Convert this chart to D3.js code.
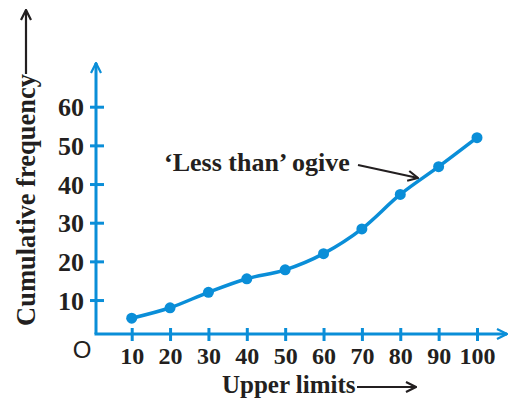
<!DOCTYPE html>
<html><head><meta charset="utf-8">
<script src="https://cdn.jsdelivr.net/npm/d3@7"></script>
<style>html,body{margin:0;padding:0;background:#fff;}svg{display:block;}</style>
</head><body>
<svg id="c" width="508" height="403"></svg>
<script>
const upperLimits = [10, 20, 30, 40, 50, 60, 70, 80, 90, 100];
const cumulativeFrequency = [5.3, 8, 12, 15.5, 17.8, 22, 28.4, 37.3, 44.5, 52];
const yTicks = [10, 20, 30, 40, 50, 60];
const xTitle = "Upper limits";
const yTitle = "Cumulative frequency";
const annotation = "\u2018Less than\u2019 ogive";

const blue = "#0a8ed8", ink = "#231f20";
const serif = "'Liberation Serif', 'Times New Roman', serif";
const svg = d3.select("#c");
const x = d3.scaleLinear().domain([10, 100]).range([131.7, 477]);
const y = d3.scaleLinear().domain([0, 60]).range([338.7, 106.7]);
const axisY = 334, axisX = 96;

const defs = svg.append("defs");
function marker(id, col){
  defs.append("marker").attr("id",id).attr("viewBox","0 0 12 12").attr("refX",11).attr("refY",6)
    .attr("markerWidth",12).attr("markerHeight",12).attr("markerUnits","userSpaceOnUse").attr("orient","auto")
    .append("path").attr("d","M1,1 L11,6 L1,11").attr("fill","none").attr("stroke",col).attr("stroke-width",2.2);
}
marker("ab", blue); marker("ak", ink);

// axes lines with arrows
svg.append("line").attr("x1",axisX).attr("y1",axisY).attr("x2",axisX).attr("y2",63)
  .attr("stroke",blue).attr("stroke-width",3).attr("marker-end","url(#ab)");
svg.append("line").attr("x1",axisX-1.5).attr("y1",axisY).attr("x2",507).attr("y2",axisY)
  .attr("stroke",blue).attr("stroke-width",3).attr("marker-end","url(#ab)");

// y ticks via d3 axis
const gy = svg.append("g").attr("transform",`translate(${axisX},0)`)
  .call(d3.axisLeft(y).tickValues(yTicks).tickSize(7).tickPadding(6).tickFormat(d3.format("d")));
gy.select(".domain").remove();
gy.selectAll(".tick line").attr("x1",-6).attr("x2",8).attr("stroke",blue).attr("stroke-width",3);
gy.selectAll(".tick text").attr("x",-12).attr("dy","0.35em").attr("fill",ink)
  .style("font-family",serif).style("font-weight","bold").style("font-size","26px");

// x ticks
const gx = svg.append("g").attr("transform",`translate(0,${axisY})`)
  .call(d3.axisBottom(x).tickValues(upperLimits).tickSize(7).tickFormat(d3.format("d")));
gx.select(".domain").remove();
gx.selectAll(".tick line").attr("y1",-6).attr("y2",7).attr("stroke",blue).attr("stroke-width",3);
gx.selectAll(".tick text").attr("y",30).attr("dy",0).attr("fill",ink)
  .style("font-family",serif).style("font-weight","bold").style("font-size","24px");

// origin
svg.append("text").attr("x",82).attr("y",358).attr("text-anchor","middle").attr("fill",ink)
  .style("font-family","'Liberation Sans', Arial, sans-serif").style("font-size","24px").text("O");

// line
const data = upperLimits.map((u,i)=>({u, c: cumulativeFrequency[i]}));
svg.append("path").datum(data).attr("fill","none").attr("stroke",blue).attr("stroke-width",3.5)
  .attr("d", d3.line().x(d=>x(d.u)).y(d=>y(d.c)).curve(d3.curveMonotoneX));
svg.selectAll("circle.pt").data(data).enter().append("circle").attr("class","pt")
  .attr("cx",d=>x(d.u)).attr("cy",d=>y(d.c)).attr("r",5.5).attr("fill",blue);

// titles
svg.append("text").attr("transform","translate(35,326) rotate(-90)").attr("fill",ink)
  .style("font-family",serif).style("font-weight","bold").style("font-size","26.5px").text(yTitle);
svg.append("line").attr("x1",26).attr("y1",74).attr("x2",26).attr("y2",10)
  .attr("stroke",ink).attr("stroke-width",2.2).attr("marker-end","url(#ak)");

svg.append("text").attr("x",222).attr("y",393).attr("fill",ink)
  .style("font-family",serif).style("font-weight","bold").style("font-size","25px").text(xTitle);
svg.append("line").attr("x1",357).attr("y1",387).attr("x2",416).attr("y2",387)
  .attr("stroke",ink).attr("stroke-width",2.2).attr("marker-end","url(#ak)");

// annotation
svg.append("text").attr("x",164).attr("y",171).attr("fill",ink)
  .style("font-family",serif).style("font-weight","bold").style("font-size","26px").text(annotation);
svg.append("line").attr("x1",358).attr("y1",165).attr("x2",418).attr("y2",178)
  .attr("stroke",ink).attr("stroke-width",2.2).attr("marker-end","url(#ak)");
</script>
</body></html>
